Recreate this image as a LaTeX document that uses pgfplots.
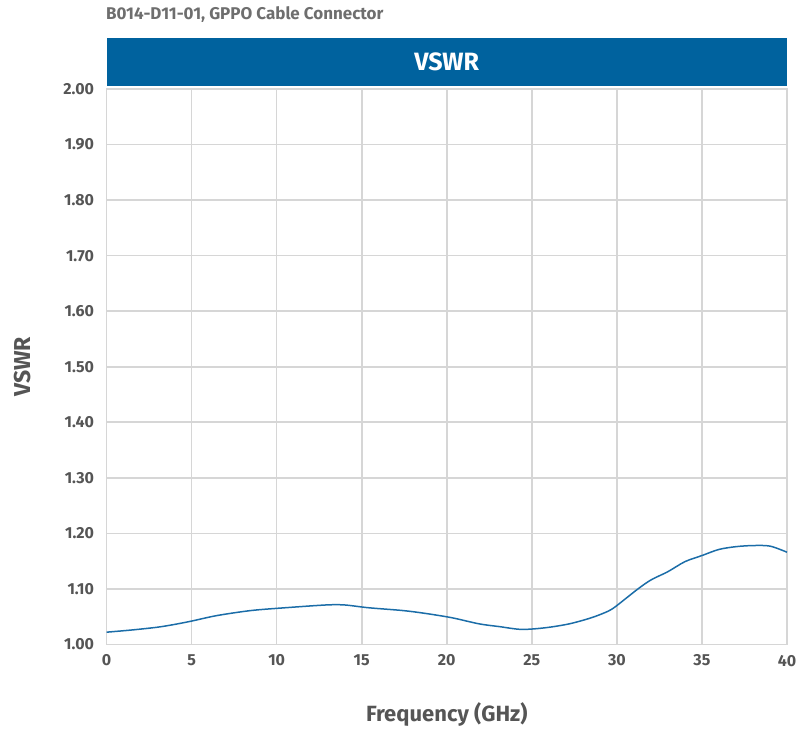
\documentclass[border=0pt]{standalone}
\usepackage{pgfplots}
\pgfplotsset{compat=1.18}
\usepackage{fontspec}
\setmainfont{Fira Sans}

\definecolor{headblue}{HTML}{00629E}
\definecolor{curveblue}{HTML}{1B6DA8}
\definecolor{gridgray}{HTML}{D6D6D6}
\definecolor{textgray}{HTML}{555555}

\begin{document}
\begin{tikzpicture}
\begin{axis}[
    scale only axis,
    width=680pt, height=555pt,
    xmin=0, xmax=40,
    ymin=1, ymax=2,
    xtick={0,5,...,40},
    ytick={1.0,1.1,...,2.01},
    grid=major,
    grid style={gridgray, line width=1.6pt},
    axis line style={gridgray, line width=1.6pt},
    major tick length=0pt,
    tick label style={font=\fontsize{16}{18}\selectfont\bfseries, text=textgray},
    yticklabel style={xshift=-9pt},
    xticklabel style={yshift=-7pt},
    /pgf/number format/.cd, fixed, fixed zerofill, precision=2, assume math mode=true,
    /pgfplots/.cd,
    xticklabel={\pgfmathprintnumber[precision=0,fixed zerofill=false]{\tick}},
    xlabel={Frequency (GHz)},
    ylabel={VSWR},
    xlabel style={font=\fontsize{22}{24}\selectfont\bfseries, text=textgray},
    ylabel style={font=\fontsize{23}{25}\selectfont\bfseries, text=textgray},
    every axis x label/.append style={at={(axis description cs:0.5,-0.126)}, anchor=center},
    every axis y label/.append style={at={(axis description cs:-0.124,0.5)}, anchor=center},
    clip=false,
]
\addplot[curveblue, line width=1.5pt, smooth] coordinates {
    (0,1.022) (1.5,1.026) (3,1.031) (4,1.036) (5,1.042) (6.5,1.052)
    (8.5,1.061) (10.5,1.066) (12.9,1.071) (14,1.071) (15.4,1.066)
    (17.4,1.061) (18.7,1.056) (20.3,1.048) (21.9,1.037) (23.1,1.032)
    (24.4,1.027) (25.8,1.030) (27.2,1.037) (28.5,1.048) (29.5,1.060)
    (30,1.070) (31.2,1.099) (32,1.116) (33,1.131) (34,1.149) (35,1.160)
    (36,1.171) (37,1.176) (38,1.178) (39,1.177) (40,1.166)
};
\end{axis}
\fill[headblue] ([yshift=3pt]current axis.north west) rectangle ([yshift=51pt]current axis.north east);
\node[white, font=\fontsize{25}{27}\selectfont\bfseries] at ([yshift=27pt]current axis.north) {VSWR};
\node[anchor=west, text=textgray!85, font=\fontsize{17}{19}\selectfont\bfseries] at ([xshift=-4pt,yshift=74pt]current axis.north west) {B014-D11-01, GPPO Cable Connector};
\path ([xshift=-106.5pt,yshift=-87pt]current axis.south west) rectangle ([xshift=17pt,yshift=89pt]current axis.north east);
\end{tikzpicture}
\end{document}
